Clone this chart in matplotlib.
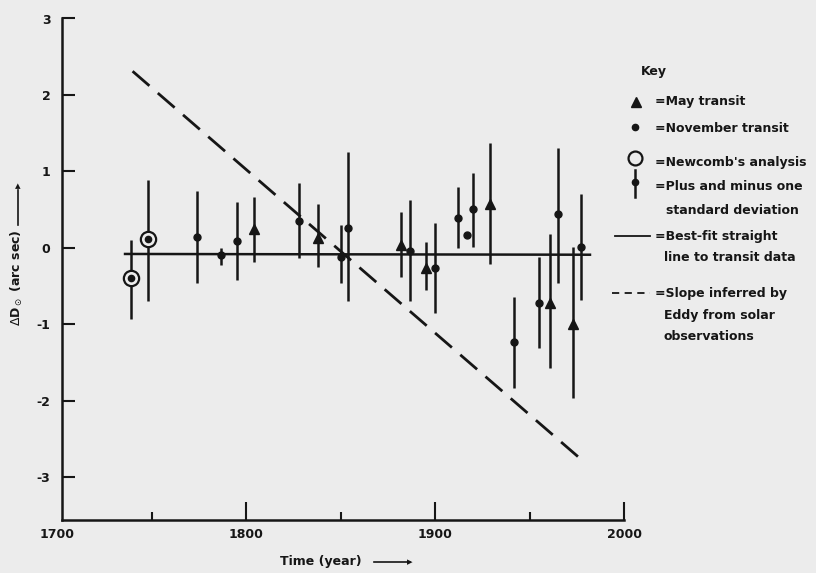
import matplotlib
matplotlib.use("Agg")
import matplotlib.pyplot as plt
from matplotlib.lines import Line2D

plt.rcParams['font.family'] = ['DejaVu Sans']

# ---------------- data ----------------
# Newcomb's analysis
newcomb_year = [1739, 1748]
newcomb_val = [-0.40, 0.12]
newcomb_lo = [-0.93, -0.70]
newcomb_hi = [0.10, 0.89]

# November transits (dots)
nov_year = [1774, 1787, 1795, 1828, 1850, 1854, 1887, 1900, 1912, 1917, 1920, 1942, 1955, 1965, 1977]
nov_val = [0.14, -0.10, 0.09, 0.35, -0.12, 0.26, -0.04, -0.26, 0.39, 0.17, 0.51, -1.23, -0.72, 0.44, 0.01]
nov_lo = [-0.46, -0.22, -0.42, -0.13, -0.46, -0.69, -0.70, -0.85, 0.00, 0.17, 0.01, -1.83, -1.31, -0.46, -0.68]
nov_hi = [0.75, 0.00, 0.60, 0.85, 0.30, 1.25, 0.63, 0.33, 0.80, 0.17, 0.98, -0.64, -0.12, 1.31, 0.70]

# May transits (triangles)
may_year = [1804, 1838, 1882, 1895, 1929, 1961, 1973]
may_val = [0.24, 0.13, 0.04, -0.26, 0.58, -0.72, -1.00]
may_lo = [-0.18, -0.25, -0.38, -0.55, -0.21, -1.57, -1.96]
may_hi = [0.67, 0.58, 0.47, 0.08, 1.37, 0.18, 0.01]

# Best-fit straight line to transit data
fit_year = [1736, 1982]
fit_val = [-0.08, -0.09]

# Slope inferred by Eddy from solar observations
eddy_year = [1740, 1977]
eddy_val = [2.31, -2.76]

y_ticks = [-3, -2, -1, 0, 1, 2, 3]
y_ticklabels = ['-3', '-2', '-1', '0', '1', '2', '3']
x_ticks = [1700, 1800, 1900, 2000]
x_ticklabels = ['1700', '1800', '1900', '2000']
x_minor = [1750, 1850, 1950]

# ---------------- styling ----------------
INK = '#161616'
BG = '#ececec'
W, H = 816, 573

fig = plt.figure(figsize=(W / 100, H / 100), dpi=100, facecolor=BG)
ax = fig.add_axes([57 / W, (H - 520) / H, 567 / W, (520 - 18.5) / H])
ax.set_facecolor(BG)
ax.set_xlim(1700, 2000)
ax.set_ylim(-3.56, 3.0)

for s in ['top', 'right']:
    ax.spines[s].set_visible(False)
for s in ['left', 'bottom']:
    ax.spines[s].set_linewidth(1.8)
    ax.spines[s].set_color(INK)
ax.spines['left'].set_position(('axes', 0.008))
ax.spines['bottom'].set_bounds(1702.4, 2000)

ax.set_yticks(y_ticks)
ax.set_yticklabels(y_ticklabels)
ax.set_xticks(x_ticks)
ax.set_xticklabels(x_ticklabels)
ax.set_xticks(x_minor, minor=True)
ax.tick_params(axis='y', direction='in', length=9, width=1.5, color=INK, pad=8,
               labelsize=9, labelcolor=INK)
ax.tick_params(axis='x', which='major', direction='in', length=13, width=1.5, color=INK,
               pad=6, labelsize=9, labelcolor=INK)
ax.tick_params(axis='x', which='minor', direction='in', length=6, width=1.5, color=INK)
ax.xaxis.get_major_ticks()[0].tick1line.set_visible(False)
for lab in ax.get_xticklabels() + ax.get_yticklabels():
    lab.set_fontweight('bold')

# best-fit line
ax.plot(fit_year, fit_val, color=INK, lw=1.8, zorder=2)
# Eddy slope
ax.plot(eddy_year, eddy_val, color=INK, lw=2.0, dashes=(8, 4), zorder=2)

# error bars
lw_bar = 1.8
ax.vlines(newcomb_year, newcomb_lo, newcomb_hi, color=INK, lw=lw_bar, zorder=3)
ax.vlines(nov_year, nov_lo, nov_hi, color=INK, lw=lw_bar, zorder=3)
ax.vlines(may_year, may_lo, may_hi, color=INK, lw=lw_bar, zorder=3)

# markers
ax.plot(nov_year, nov_val, 'o', color=INK, ms=5, zorder=4)
ax.plot(may_year, may_val, '^', color=INK, ms=7.5, zorder=4)
ax.plot(newcomb_year, newcomb_val, 'o', mfc=BG, mec=INK, mew=1.6, ms=11, zorder=4)
ax.plot(newcomb_year, newcomb_val, 'o', color=INK, ms=4.5, zorder=5)


# ---------------- labels ----------------
def fx(px):
    return px / W


def fy(py):
    return 1 - py / H


fig.text(fx(280), fy(562), 'Time (year)', fontsize=9, fontweight='bold', color=INK,
         ha='left', va='center')
fig.add_artist(Line2D([fx(374), fx(410)], [fy(562), fy(562)], color=INK, lw=1.2))
fig.text(fx(413), fy(562), '\u25B8', fontsize=8, color=INK, ha='right', va='center')

fig.text(fx(17), fy(278), r'$\Delta$D$_\odot$ (arc sec)', fontsize=9, fontweight='bold',
         color=INK, rotation=90, ha='center', va='center')
fig.add_artist(Line2D([fx(18), fx(18)], [fy(225), fy(190)], color=INK, lw=1.2))
fig.text(fx(18), fy(186), '\u25B4', fontsize=8, color=INK, ha='center', va='center')

# ---------------- key ----------------
TS = 9
fig.text(fx(641), fy(72), 'Key', fontsize=TS, fontweight='bold', color=INK, va='center')
fig.add_artist(Line2D([fx(636)], [fy(102)], marker='^', color=INK, ms=7.5, lw=0))
fig.text(fx(655), fy(102), '=May transit', fontsize=TS, fontweight='bold', color=INK, va='center')
fig.add_artist(Line2D([fx(635)], [fy(127)], marker='o', color=INK, ms=4.5, lw=0))
fig.text(fx(655), fy(128), '=November transit', fontsize=TS, fontweight='bold', color=INK, va='center')
fig.add_artist(Line2D([fx(635)], [fy(158)], marker='o', mfc=BG, mec=INK, mew=1.6, ms=10, lw=0))
fig.text(fx(655), fy(163), "=Newcomb's analysis", fontsize=TS, fontweight='bold', color=INK, va='center')
fig.add_artist(Line2D([fx(635), fx(635)], [fy(170), fy(197)], color=INK, lw=1.8))
fig.add_artist(Line2D([fx(635)], [fy(182)], marker='o', color=INK, ms=4.5, lw=0))
fig.text(fx(655), fy(187), '=Plus and minus one', fontsize=TS, fontweight='bold', color=INK, va='center')
fig.text(fx(666), fy(210), 'standard deviation', fontsize=TS, fontweight='bold', color=INK, va='center')
fig.add_artist(Line2D([fx(615), fx(650)], [fy(236), fy(236)], color=INK, lw=1.3))
fig.text(fx(655), fy(236), '=Best-fit straight', fontsize=TS, fontweight='bold', color=INK, va='center')
fig.text(fx(664), fy(258), 'line to transit data', fontsize=TS, fontweight='bold', color=INK, va='center')
fig.add_artist(Line2D([fx(612), fx(650)], [fy(293), fy(293)], color=INK, lw=1.3, dashes=(4, 3)))
fig.text(fx(655), fy(294), '=Slope inferred by', fontsize=TS, fontweight='bold', color=INK, va='center')
fig.text(fx(664), fy(316), 'Eddy from solar', fontsize=TS, fontweight='bold', color=INK, va='center')
fig.text(fx(664), fy(337), 'observations', fontsize=TS, fontweight='bold', color=INK, va='center')

fig.savefig('out.png', dpi=100, facecolor=BG)
